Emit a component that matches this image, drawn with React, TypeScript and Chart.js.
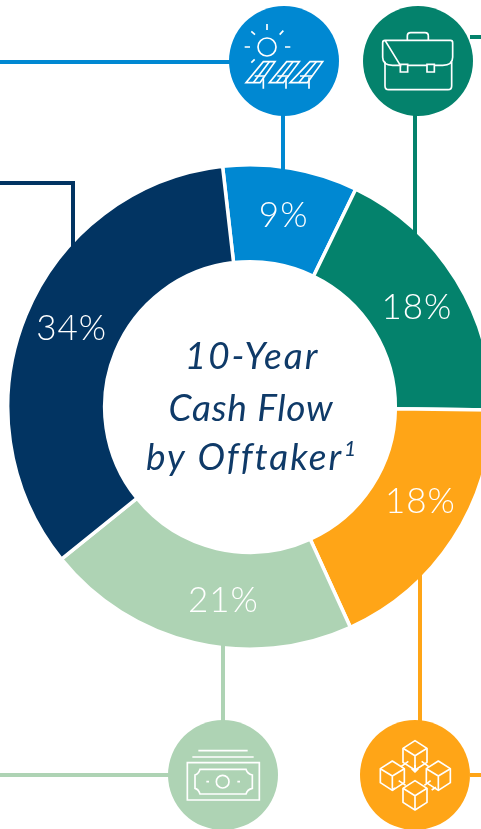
import React, { useEffect, useRef } from "react";
import { Chart, registerables } from "chart.js";

Chart.register(...registerables);

const categories = ["Solar", "Corporate", "Blockchain", "Cash", "Utility"];
const shares = [9, 18, 18, 21, 34];
const percentLabels = ["9%", "18%", "18%", "21%", "34%"];
const sliceColors = ["#0088D2", "#04826C", "#FFA517", "#AED3B4", "#023462"];
const titleLines = ["10-Year", "Cash Flow", "by Offtaker"];
const labelNudges: [number, number][] = [[1, 0], [2, 3], [8, -11], [18, 5], [1, -5]];

const NAVY = "#0F3A68";
const LABEL_FONT = "300 35px Lato";
const TITLE_FONT = "italic 400 37px Lato";

function stroke(ctx: CanvasRenderingContext2D, d: string) {
  ctx.stroke(new Path2D(d));
}

function solarIcon(ctx: CanvasRenderingContext2D) {
  ctx.save();
  ctx.translate(220, 0);
  ctx.scale(1 / 3, 1 / 3);
  ctx.strokeStyle = "#fff";
  ctx.lineWidth = 5;
  ctx.beginPath();
  ctx.arc(141, 141, 27, 0, Math.PI * 2);
  ctx.stroke();
  stroke(ctx, "M141 72V90 M94 94L105 104 M190 92L179 104 M74 141H90 M195 141H211 M94 188L104 178");
  stroke(ctx, "M130 185H165L120 248H78Z M200 185H238L190 248H148Z M270 185H308L262 248H210Z");
  stroke(ctx, "M104 228H135 M172 228H207 M240 228H276");
  stroke(ctx, "M148 185L100 248 M219 185L169 248 M289 185L236 248");
  stroke(ctx, "M130 232V266 M198 232V266 M267 232V266");
  ctx.restore();
}

function caseIcon(ctx: CanvasRenderingContext2D) {
  ctx.save();
  ctx.translate(220, 0);
  ctx.scale(1 / 3, 1 / 3);
  ctx.strokeStyle = "#fff";
  ctx.lineWidth = 5;
  stroke(ctx, "M495 121H692Q698 121 698 128V172Q698 196 668 196H643 M621 196H563 M541 196H518Q488 196 488 172V128Q488 121 495 121Z");
  stroke(ctx, "M495 185V258Q495 269 506 269H684Q695 269 695 258V185");
  stroke(ctx, "M562 120V108Q562 98 572 98H615Q625 98 625 108V120");
  stroke(ctx, "M541 193H563V216H541Z M621 193H643V216H621Z");
  ctx.restore();
}

function moneyIcon(ctx: CanvasRenderingContext2D) {
  ctx.save();
  ctx.translate(160, 710);
  ctx.scale(1 / 3, 1 / 3);
  ctx.strokeStyle = "#fff";
  ctx.lineWidth = 5;
  stroke(ctx, "M115 122H263 M97 141H281");
  stroke(ctx, "M82 158H298V270H82Z");
  stroke(ctx, "M120 178H258Q262 192 277 195V235Q262 238 258 252H120Q116 238 105 235V195Q116 192 120 178Z");
  ctx.beginPath();
  ctx.arc(188, 215, 19, 0, Math.PI * 2);
  ctx.stroke();
  stroke(ctx, "M139 215H147 M232 215H240");
  ctx.restore();
}

function cube(ctx: CanvasRenderingContext2D, x: number, y: number) {
  stroke(ctx, `M${x} ${y - 35}L${x + 36} ${y - 12}V${y + 30}L${x} ${y + 53}L${x - 36} ${y + 30}V${y - 12}Z`);
  stroke(ctx, `M${x - 36} ${y - 12}L${x} ${y + 10}L${x + 36} ${y - 12} M${x} ${y + 10}V${y + 53}`);
}

function blocksIcon(ctx: CanvasRenderingContext2D) {
  ctx.save();
  ctx.translate(160, 710);
  ctx.scale(1 / 3, 1 / 3);
  ctx.strokeStyle = "#fff";
  ctx.lineWidth = 5;
  ctx.lineJoin = "round";
  cube(ctx, 765, 127);
  cube(ctx, 697, 188);
  cube(ctx, 835, 188);
  cube(ctx, 765, 247);
  stroke(ctx, "M723 170L745 154 M765 165V184 M755 176L765 186L775 176 M785 154L806 170");
  stroke(ctx, "M716 212L737 226 M697 240L705 234 M815 240L828 232 M793 226L812 212");
  ctx.restore();
}

function circle(ctx: CanvasRenderingContext2D, x: number, y: number, color: string) {
  ctx.fillStyle = color;
  ctx.beginPath();
  ctx.arc(x, y, 55, 0, Math.PI * 2);
  ctx.fill();
}

const connectors = {
  id: "connectors",
  afterDatasetsDraw(chart: Chart) {
    const ctx = chart.ctx;
    ctx.save();
    ctx.lineWidth = 4;
    const line = (c: string, d: string) => {
      ctx.strokeStyle = c;
      stroke(ctx, d);
    };
    line(sliceColors[0], "M0 62H230 M283 115V171");
    line(sliceColors[1], "M470 37H481 M415 115V235");
    line(sliceColors[4], "M0 183H73V247");
    line(sliceColors[2], "M420 574V722 M470 775H481");
    line(sliceColors[3], "M223 644V722 M0 775H170");
    ctx.restore();

    circle(ctx, 284, 61, sliceColors[0]);
    circle(ctx, 418, 61, sliceColors[1]);
    circle(ctx, 223, 775, sliceColors[3]);
    circle(ctx, 415, 775, sliceColors[2]);
    solarIcon(ctx);
    caseIcon(ctx);
    moneyIcon(ctx);
    blocksIcon(ctx);

    ctx.save();
    ctx.font = LABEL_FONT;
    ctx.fillStyle = "#fff";
    ctx.textAlign = "center";
    ctx.textBaseline = "middle";
    (ctx as any).letterSpacing = "1px";
    chart.getDatasetMeta(0).data.forEach((el: any, i: number) => {
      const p = el.getCenterPoint();
      ctx.fillText(percentLabels[i], p.x + labelNudges[i][0], p.y + labelNudges[i][1]);
    });

    const a = chart.chartArea;
    const cx = (a.left + a.right) / 2;
    const cy = (a.top + a.bottom) / 2;
    ctx.font = TITLE_FONT;
    ctx.fillStyle = NAVY;
    ctx.textBaseline = "alphabetic";
    (ctx as any).letterSpacing = "2px";
    ctx.fillText(titleLines[0], cx + 2, cy - 38);
    (ctx as any).letterSpacing = "0.8px";
    ctx.fillText(titleLines[1], cx + 1, cy + 14);
    ctx.textAlign = "left";
    (ctx as any).letterSpacing = "2px";
    const w = ctx.measureText(titleLines[2]).width;
    const left = cx - 104;
    ctx.fillText(titleLines[2], left, cy + 63);
    (ctx as any).letterSpacing = "0px";
    ctx.font = "italic 400 21px Lato";
    ctx.fillText("1", left + w + 1, cy + 49);
    ctx.restore();
  },
};

export default function App() {
  const ref = useRef<HTMLCanvasElement>(null);
  useEffect(() => {
    document.body.style.margin = "0";
    const chart = new Chart(ref.current!, {
      type: "doughnut",
      data: {
        labels: categories,
        datasets: [
          {
            data: shares,
            backgroundColor: sliceColors,
            borderColor: "#fff",
            borderWidth: 3.5,
            borderJoinStyle: "miter",
          },
        ],
      },
      options: {
        animation: false,
        responsive: false,
        cutout: "60%",
        rotation: -6.5,
        layout: { padding: { left: 6, right: 15, top: 163, bottom: 178 } },
        plugins: { legend: { display: false }, tooltip: { enabled: false }, title: { display: false } },
      },
      plugins: [connectors],
    } as any);
    return () => chart.destroy();
  }, []);
  return (
    <div style={{ width: 481, height: 829, overflow: "hidden", position: "relative" }}>
      <canvas ref={ref} width={509} height={829} style={{ display: "block" }} />
    </div>
  );
}
